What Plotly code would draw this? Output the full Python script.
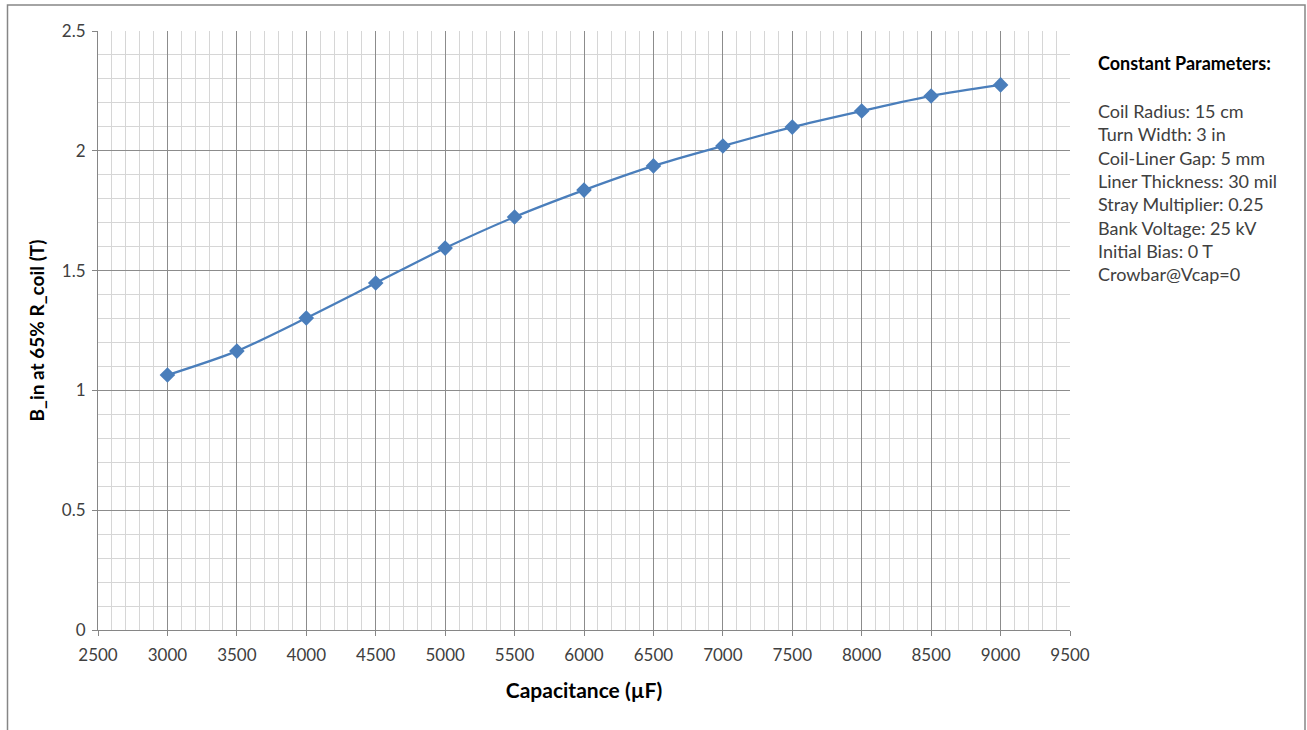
import plotly.graph_objects as go

capacitance = [3000, 3500, 4000, 4500, 5000, 5500, 6000, 6500, 7000, 7500, 8000, 8500, 9000]
b_in = [1.064, 1.164, 1.302, 1.448, 1.594, 1.724, 1.836, 1.937, 2.02, 2.099, 2.166, 2.229, 2.275]

param_title = "Constant Parameters:"
param_lines = [
    "Coil Radius: 15 cm",
    "Turn Width: 3 in",
    "Coil-Liner Gap: 5 mm",
    "Liner Thickness: 30 mil",
    "Stray Multiplier: 0.25",
    "Bank Voltage: 25 kV",
    "Initial Bias: 0 T",
    "Crowbar@Vcap=0",
]

FONT = "Lato, Calibri, sans-serif"
W, H = 1307, 730
L, R, T, B = 98, 237, 31, 100
pw, ph = W - L - R, H - T - B


def px_x(x):
    return (x - L) / pw


def px_y(y):
    return (H - B - y) / ph


fig = go.Figure()
fig.add_trace(go.Scatter(
    x=capacitance, y=b_in, mode="lines+markers",
    line=dict(color="#4a7ebb", width=2.25, shape="spline", smoothing=0.8),
    marker=dict(symbol="diamond", size=12, color="#4a7ebb"),
    showlegend=False,
))

axis_common = dict(
    showline=True, linecolor="#868686", linewidth=1,
    ticks="outside", ticklen=5, tickcolor="#868686",
    gridcolor="#8c8c8c", gridwidth=1, zeroline=False,
    tickfont=dict(family=FONT, size=17, color="#404040"),
    minor=dict(showgrid=True, gridcolor="#d6d6d6", gridwidth=1, ticks=""),
)

fig.update_xaxes(
    range=[2500, 9500], tick0=2500, dtick=500,
    minor_dtick=100, ticklabelstandoff=5,
    title=dict(text="<b>Capacitance (µF)</b>", font=dict(family=FONT, size=21, color="#000"), standoff=18),
    **axis_common,
)
fig.update_yaxes(
    range=[0, 2.5], tick0=0, dtick=0.5,
    minor_dtick=0.1, ticklabelstandoff=3,
    title=dict(text="<b>B_in at 65% R_coil (T)</b>", font=dict(family=FONT, size=19, color="#000"), standoff=12),
    **axis_common,
)

annotations = [dict(
    text="<b>" + param_title + "</b>", xref="paper", yref="paper",
    x=px_x(1096), y=px_y(63), xanchor="left", yanchor="middle",
    showarrow=False, font=dict(family=FONT, size=18, color="#000"),
)]
for i, line in enumerate(param_lines):
    annotations.append(dict(
        text=line, xref="paper", yref="paper",
        x=px_x(1096), y=px_y(111 + i * 23.3), xanchor="left", yanchor="middle",
        showarrow=False, font=dict(family=FONT, size=18, color="#404040"),
    ))

fig.update_layout(
    width=W, height=H,
    margin=dict(l=L, r=R, t=T, b=B),
    plot_bgcolor="white", paper_bgcolor="white",
    annotations=annotations,
    shapes=[dict(
        type="rect", xref="paper", yref="paper",
        x0=px_x(7.5), x1=px_x(1305), y0=px_y(760), y1=px_y(5),
        line=dict(color="#868686", width=1.5), layer="below",
    )],
)

fig.write_html("out.html", config={"displayModeBar": False},
               post_script="document.body.style.margin='0px';")
